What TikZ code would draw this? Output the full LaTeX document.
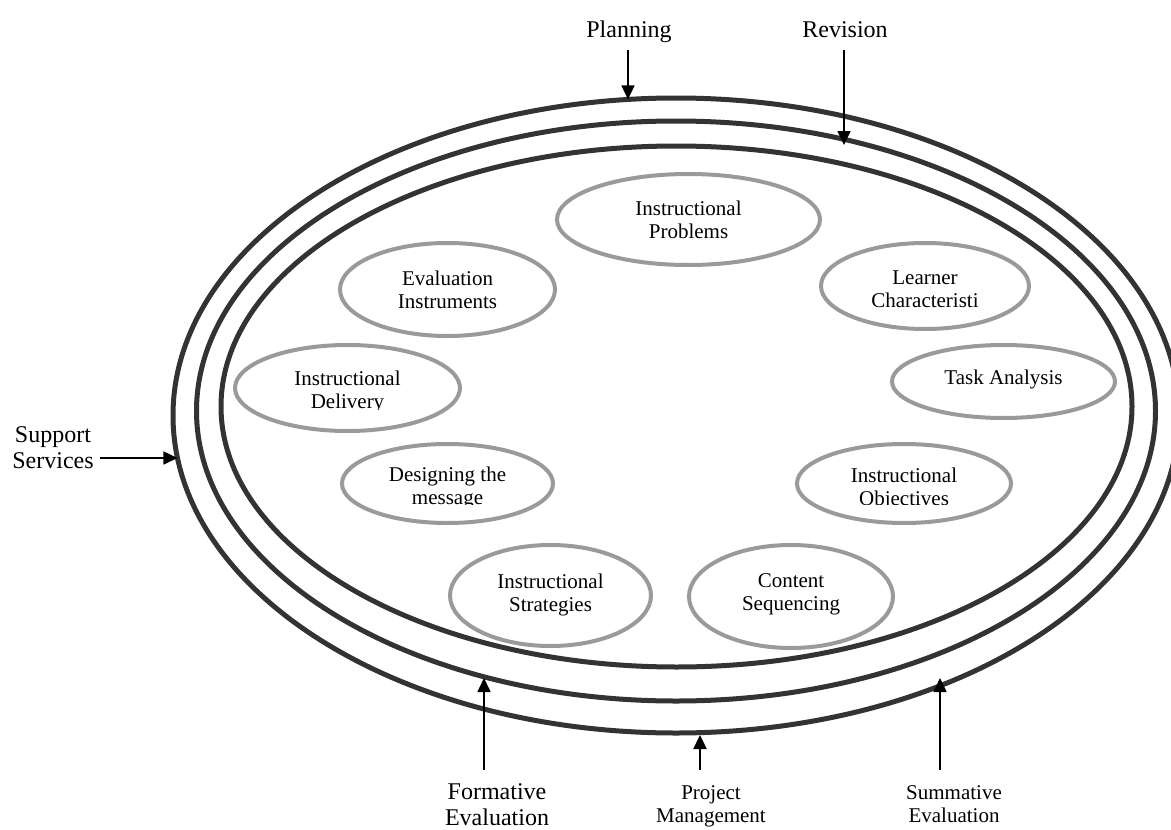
\documentclass[tikz,border=0pt]{standalone}
\usepackage{fontspec}
\setmainfont{Liberation Serif}
\usetikzlibrary{shapes.geometric,arrows.meta,intersections}
\definecolor{ringgray}{HTML}{333333}
\definecolor{stagegray}{HTML}{9A9A9A}
\begin{document}
\begin{tikzpicture}[x=1pt,y=-1pt,
  ring/.style={draw=ringgray,line width=5pt},
  stage/.style={ellipse,draw=stagegray,line width=4pt,inner sep=0pt,align=center,
    font=\fontsize{21}{23}\selectfont},
  stagetext/.style={inner sep=0pt,align=center,font=\fontsize{21}{23}\selectfont},
  biglabel/.style={inner sep=0pt,align=center,font=\fontsize{24}{26}\selectfont},
  smalllabel/.style={inner sep=0pt,align=center,font=\fontsize{21}{23}\selectfont},
  feed/.style={line width=1.6pt,-{Triangle[length=14pt,width=13pt]}}
]
\useasboundingbox (0,0) rectangle (1171,830);

% three concentric process rings
\draw[ring,name path=outerring] (676,415.5) ellipse [x radius=503, y radius=317.5];
\draw[ring,name path=midring]   (676,411) ellipse [x radius=479.5, y radius=290];
\draw[ring,name path=innerring] (676.5,406.5) ellipse [x radius=455.5, y radius=260.5];

% design stages
\node[stage,minimum width=263,minimum height=91] (problems) at (688.5,219.5) {Instructional\\Problems};
\node[stage,minimum width=208,minimum height=86] (learner) at (925,286) {};
\node[stagetext] at ([yshift=-3pt]learner.center) {Learner\\Characteristi};
\node[stage,minimum width=223,minimum height=73] (task) at (1003.5,381.5) {};
\node[stagetext] at ([yshift=2pt]task.center) {Task Analysis};
\node[stage,minimum width=214,minimum height=79] (objectives) at (904,483.5) {};
\node[stage,minimum width=204,minimum height=103] (content) at (791,596.5) {};
\node[stagetext] at ([yshift=2pt]content.center) {Content\\Sequencing};
\node[stage,minimum width=201,minimum height=101] (strategies) at (550.5,595.5) {};
\node[stagetext] at ([yshift=1pt]strategies.center) {Instructional\\Strategies};
\node[stage,minimum width=211,minimum height=79] (designing) at (447.5,483.5) {};
\node[stage,minimum width=225,minimum height=86] (delivery) at (347.5,388) {};
\node[stage,minimum width=215,minimum height=93] (instruments) at (447.5,289.5) {Evaluation\\Instruments};

% labels whose last line is cut off at the bottom
\begin{scope}
  \clip (790,440) rectangle (1020,504);
  \node[stagetext] at ([yshift=-5pt]objectives.center) {Instructional\\Objectives};
\end{scope}
\begin{scope}
  \clip (335,440) rectangle (560,504);
  \node[stagetext] at ([yshift=-4pt]designing.center) {Designing the\\message};
\end{scope}
\begin{scope}
  \clip (228,340) rectangle (467,409);
  \node[stagetext] at ([yshift=-4pt]delivery.center) {Instructional\\Delivery};
\end{scope}

% outer labels
\node[biglabel,anchor=base] (planning) at (629,37) {Planning};
\node[biglabel,anchor=base] (revision) at (845,37) {Revision};
\node[biglabel] (support) at (53,448) {Support\\Services};
\node[biglabel] (formative) at (497,805) {Formative\\Evaluation};
\node[smalllabel] (project) at (711,806) {Project\\Management};
\node[smalllabel] (summative) at (954,804) {Summative\\Evaluation};

% arrow end points
\coordinate (planStart) at (628,50);
\coordinate (revStart) at (844,50);
\coordinate (supStart) at (100,458);
\coordinate (formStart) at (484,770);
\coordinate (projStart) at (700,770);
\coordinate (sumStart) at (940,770);
\coordinate (revTip) at (844,145);
\coordinate (formTip) at (484,678);
\coordinate (projTip) at (700,735);
\coordinate (sumTip) at (940,678);

\path[name path=planLine] (628,40) -- (628,300);
\path[name path=supLine] (90,458) -- (400,458);
\path[name intersections={of=outerring and planLine,by=planTip}];
\path[name intersections={of=outerring and supLine,by=supTip}];

\draw[feed] (planStart) -- (planTip);
\draw[feed] (revStart) -- (revTip);
\draw[feed] (supStart) -- (supTip);
\draw[feed] (formStart) -- (formTip);
\draw[feed,line width=2.4pt] (projStart) -- (projTip);
\draw[feed] (sumStart) -- (sumTip);
\end{tikzpicture}
\end{document}
